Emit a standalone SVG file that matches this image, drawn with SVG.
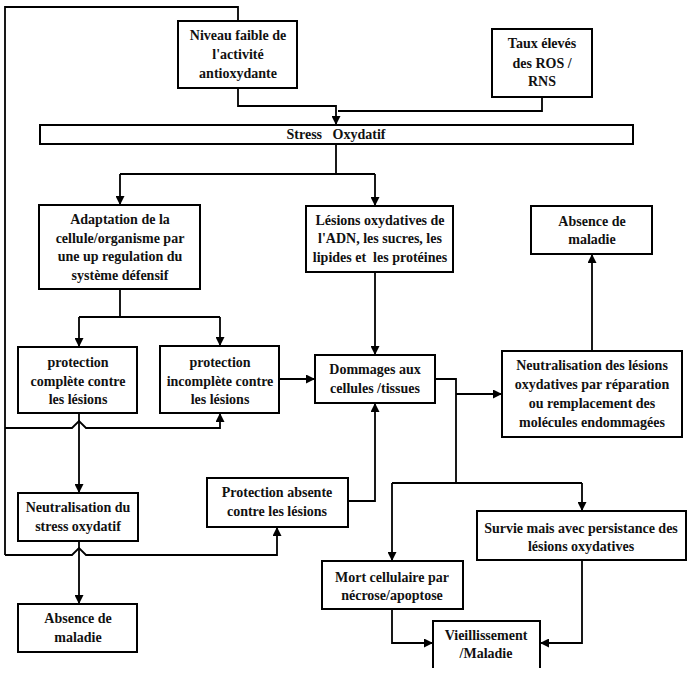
<svg xmlns="http://www.w3.org/2000/svg" width="690" height="676" viewBox="0 0 690 676">
<style>
.box{fill:#fff;stroke:#000;stroke-width:2}
.t{font-family:"Liberation Serif","Times New Roman",serif;font-weight:bold;font-size:14px;text-anchor:middle;fill:#111}
.c{fill:none;stroke:#000;stroke-width:1.8}
</style>
<defs>
<marker id="a" viewBox="0 0 10 10" refX="10" refY="5" markerWidth="9" markerHeight="9" markerUnits="userSpaceOnUse" orient="auto">
<path d="M0,0 L10,5 L0,10 z" fill="#000"/>
</marker>
</defs>
<rect width="690" height="676" fill="#fff"/>
<g id="connectors">
<path class="c" d="M238,20 V7 H5 V555"/>
<path class="c" d="M5,428 H72 L79,421 L86,428 H220 V413" marker-end="url(#a)"/>
<path class="c" d="M5,555 H72 L79,548 L86,555 H277 V527" marker-end="url(#a)"/>
<path class="c" d="M238,88 V106 H336 V125" marker-end="url(#a)"/>
<path class="c" d="M542,97 V111 H338"/>
<path class="c" d="M336,144 V174"/>
<path class="c" d="M120,174 H375"/>
<path class="c" d="M120,174 V205" marker-end="url(#a)"/>
<path class="c" d="M375,174 V206" marker-end="url(#a)"/>
<path class="c" d="M120,289 V317"/>
<path class="c" d="M79,317 H220"/>
<path class="c" d="M79,317 V347" marker-end="url(#a)"/>
<path class="c" d="M220,317 V346" marker-end="url(#a)"/>
<path class="c" d="M279,379 H315" marker-end="url(#a)"/>
<path class="c" d="M375,272 V355" marker-end="url(#a)"/>
<path class="c" d="M435,379 H456 V483"/>
<path class="c" d="M456,394 H502" marker-end="url(#a)"/>
<path class="c" d="M592,351 V254" marker-end="url(#a)"/>
<path class="c" d="M392,483 H582"/>
<path class="c" d="M392,483 V561" marker-end="url(#a)"/>
<path class="c" d="M582,483 V511" marker-end="url(#a)"/>
<path class="c" d="M392,609 V643 H433" marker-end="url(#a)"/>
<path class="c" d="M582,560 V643 H540" marker-end="url(#a)"/>
<path class="c" d="M348,501 H375 V403" marker-end="url(#a)"/>
<path class="c" d="M79,413 V493" marker-end="url(#a)"/>
<path class="c" d="M79,541 V604" marker-end="url(#a)"/>
</g>
<g id="niveau">
<rect class="box" x="178" y="21" width="119" height="67"/>
<text class="t" x="238" y="40">Niveau faible de</text>
<text class="t" x="238" y="59">l'activité</text>
<text class="t" x="238" y="78">antioxydante</text>
</g>
<g id="taux">
<rect class="box" x="492" y="29" width="100" height="68"/>
<text class="t" x="542" y="48">Taux élevés</text>
<text class="t" x="542" y="68">des ROS /</text>
<text class="t" x="542" y="86">RNS</text>
</g>
<g id="stress">
<rect class="box" x="40" y="125" width="593" height="19"/>
<text class="t" x="336" y="139" xml:space="preserve">Stress   Oxydatif</text>
</g>
<g id="adaptation">
<rect class="box" x="39" y="205" width="161" height="84"/>
<text class="t" x="120" y="224">Adaptation de la</text>
<text class="t" x="120" y="243">cellule/organisme par</text>
<text class="t" x="120" y="261">une up regulation du</text>
<text class="t" x="120" y="280">système défensif</text>
</g>
<g id="lesions">
<rect class="box" x="306" y="206" width="147" height="66"/>
<text class="t" x="380" y="225">Lésions oxydatives de</text>
<text class="t" x="380" y="243">l'ADN, les sucres, les</text>
<text class="t" x="380" y="262" xml:space="preserve">lipides et  les protéines</text>
</g>
<g id="absence-right">
<rect class="box" x="531" y="206" width="121" height="48"/>
<text class="t" x="592" y="226">Absence de</text>
<text class="t" x="592" y="244">maladie</text>
</g>
<g id="prot-complete">
<rect class="box" x="18" y="347" width="119" height="66"/>
<text class="t" x="78" y="367">protection</text>
<text class="t" x="78" y="386">complète contre</text>
<text class="t" x="78" y="404">les lésions</text>
</g>
<g id="prot-incomplete">
<rect class="box" x="160" y="346" width="119" height="67"/>
<text class="t" x="220" y="367">protection</text>
<text class="t" x="220" y="386">incomplète contre</text>
<text class="t" x="220" y="404">les lésions</text>
</g>
<g id="dommages">
<rect class="box" x="315" y="355" width="120" height="48"/>
<text class="t" x="375" y="374">Dommages aux</text>
<text class="t" x="375" y="393">cellules /tissues</text>
</g>
<g id="neutr-lesions">
<rect class="box" x="502" y="351" width="180" height="86"/>
<text class="t" x="592" y="370">Neutralisation des lésions</text>
<text class="t" x="592" y="389">oxydatives par réparation</text>
<text class="t" x="592" y="408">ou remplacement des</text>
<text class="t" x="592" y="427">molécules endommagées</text>
</g>
<g id="prot-absente">
<rect class="box" x="207" y="478" width="141" height="49"/>
<text class="t" x="277" y="497">Protection absente</text>
<text class="t" x="277" y="516">contre les lésions</text>
</g>
<g id="neutr-stress">
<rect class="box" x="18" y="493" width="120" height="48"/>
<text class="t" x="78" y="512">Neutralisation du</text>
<text class="t" x="78" y="531">stress oxydatif</text>
</g>
<g id="absence-left">
<rect class="box" x="18" y="604" width="119" height="48"/>
<text class="t" x="78" y="623">Absence de</text>
<text class="t" x="78" y="642">maladie</text>
</g>
<g id="survie">
<rect class="box" x="477" y="511" width="209" height="49"/>
<text class="t" x="581" y="533">Survie mais avec persistance des</text>
<text class="t" x="581" y="551">lésions oxydatives</text>
</g>
<g id="mort">
<rect class="box" x="322" y="561" width="141" height="48"/>
<text class="t" x="392" y="582">Mort cellulaire par</text>
<text class="t" x="392" y="600">nécrose/apoptose</text>
</g>
<g id="vieillissement">
<rect x="433" y="621" width="107" height="47" fill="#fff"/>
<path class="box" d="M433,668 V621 H540 V668" fill="none"/>
<text class="t" x="486" y="640">Vieillissement</text>
<text class="t" x="486" y="658">/Maladie</text>
</g>
</svg>
